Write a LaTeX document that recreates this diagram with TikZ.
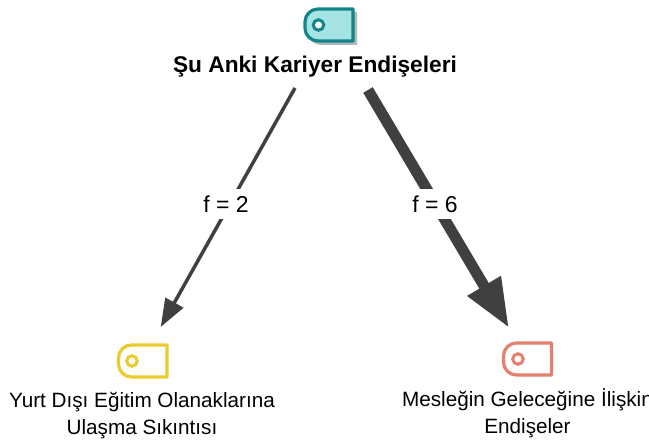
\documentclass[tikz,border=0pt]{standalone}
\usepackage{fontspec}
\setmainfont{Liberation Sans}
\usetikzlibrary{arrows.meta}
\newcommand{\tagshape}[5]{% x1 y1 x2 y2 style
  \path[#5] (#3,#2) [rounded corners=13pt] -- (#1,#2) -- (#1,#4) [sharp corners] -- (#3,#4) -- cycle;}
\tikzset{
 x=1pt,y=-1pt,
 tagline/.style={line width=3.2pt,line join=round},
 tagdot/.style={circle,minimum size=10.5pt,inner sep=0pt,line width=3pt},
 maintext/.style={font=\fontsize{20.7}{27}\selectfont,align=center,text=black,inner sep=0pt},
 flink/.style={color=linkgrey},
 flabel/.style={fill=white,font=\fontsize{23}{27}\selectfont,text=black,inner sep=3pt,minimum height=30pt},
}
\definecolor{linkgrey}{HTML}{404040}
\definecolor{tealline}{HTML}{12848A}
\definecolor{tealfill}{HTML}{A6E3E3}
\definecolor{tagshadow}{HTML}{B4B8B8}
\definecolor{yellowline}{HTML}{EBCB2D}
\definecolor{redline}{HTML}{E5806F}
\begin{document}
\begin{tikzpicture}
\useasboundingbox (0,0) rectangle (649,443);
\tagshape{308}{12}{357}{45}{fill=tagshadow}
\tagshape{305}{9}{353}{41}{tagline,draw=tealline,fill=tealfill}
\node[tagdot,draw=tealline,fill=white] (topdot) at (318.5,25) {};
\tagshape{118.5}{345}{167}{377}{tagline,draw=yellowline,fill=white}
\node[tagdot,draw=yellowline,fill=white] (yellowdot) at (132,361) {};
\tagshape{503.5}{343}{551.5}{375}{tagline,draw=redline,fill=white}
\node[tagdot,draw=redline,fill=white] (reddot) at (518,359) {};
\node[maintext,font=\fontsize{22.7}{27}\selectfont\bfseries] (title) at (315,67) {Şu Anki Kariyer Endişeleri};
\node[maintext] (ytext) at (142,415.5) {Yurt Dışı Eğitim Olanaklarına\\Ulaşma Sıkıntısı};
\node[maintext] (rtext) at (527.5,413.5) {Mesleğin Geleceğine İlişkin\\Endişeler};
\coordinate (s1) at (295,88);
\coordinate (e1) at (160.7,327);
\coordinate (s2) at (368,90);
\coordinate (e2) at (509,328);
\draw[flink,line width=3.5pt,-{Triangle[length=28pt,width=20pt]}] (s1) -- (e1);
\draw[flink,line width=11pt,-{Triangle[length=49pt,width=36pt]}] (s2) -- (e2);
\node[flabel] (l1) at (226,204) {f = 2};
\node[flabel] (l2) at (435,204) {f = 6};
\end{tikzpicture}
\end{document}
